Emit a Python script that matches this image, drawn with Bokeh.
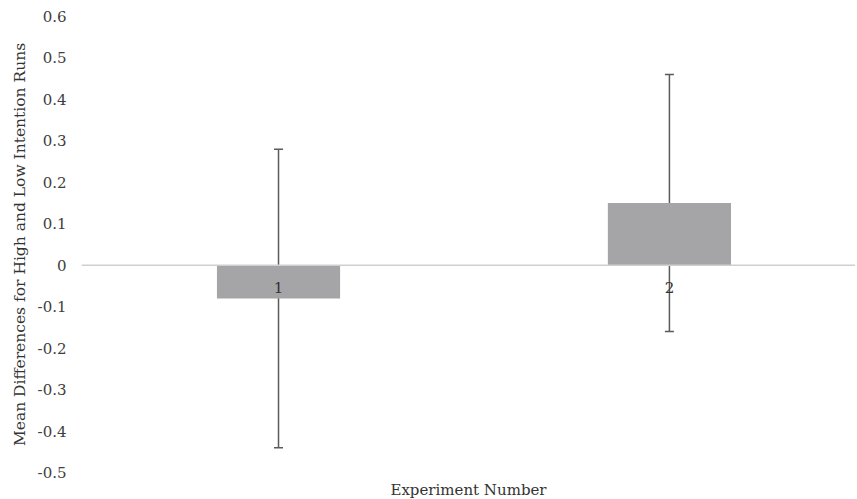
from bokeh.plotting import figure
from bokeh.models import ColumnDataSource, Range1d, Span, Whisker, TeeHead, FixedTicker
from bokeh.core.properties import value
from bokeh.embed import file_html
from bokeh.resources import INLINE

experiments = [1, 2]
experiment_labels = ["1", "2"]
mean_diff = [-0.08, 0.15]
err_upper = [0.28, 0.46]
err_lower = [-0.44, -0.16]
y_ticks = [-0.5, -0.4, -0.3, -0.2, -0.1, 0, 0.1, 0.2, 0.3, 0.4, 0.5, 0.6]
y_tick_labels = ["-0.5", "-0.4", "-0.3", "-0.2", "-0.1", "0", "0.1", "0.2", "0.3", "0.4", "0.5", "0.6"]

FONT = "DejaVu Serif"

src = ColumnDataSource(dict(x=experiments, top=mean_diff, upper=err_upper,
                            lower=err_lower, label=experiment_labels,
                            zero=[0] * len(experiments)))

p = figure(frame_width=774, frame_height=456, output_backend="svg", toolbar_location=None,
           x_range=Range1d(0.496, 2.476), y_range=Range1d(-0.5, 0.6),
           min_border_top=16, min_border_bottom=20, min_border_left=81, min_border_right=0)
p.outline_line_color = None
p.grid.visible = False
p.background_fill_color = "white"
p.border_fill_color = "white"

p.vbar(x="x", top="top", bottom=0, width=0.315, source=src,
       fill_color="#a5a5a7", line_color=None)

p.add_layout(Span(location=0, dimension="width", line_color="#cfcfcf", line_width=1.5))

w = Whisker(base="x", upper="upper", lower="lower", source=src,
            line_color="#5a5a5a", line_width=1.5,
            upper_head=TeeHead(size=9, line_color="#5a5a5a", line_width=1.5),
            lower_head=TeeHead(size=9, line_color="#5a5a5a", line_width=1.5))
p.add_layout(w)

p.text(x="x", y="zero", text="label", source=src, text_font=value(FONT),
       text_font_size="15px", text_color="#333333", text_align="center",
       text_baseline="middle", y_offset=22)

# y axis
p.yaxis.ticker = FixedTicker(ticks=y_ticks)
p.yaxis.major_label_overrides = {t: l for t, l in zip(y_ticks, y_tick_labels)}
p.yaxis.axis_line_color = None
p.yaxis.major_tick_line_color = None
p.yaxis.minor_tick_line_color = None
p.yaxis.major_tick_out = 0
p.yaxis.major_label_standoff = 15
p.yaxis.major_label_text_font = FONT
p.yaxis.major_label_text_font_size = "15px"
p.yaxis.major_label_text_color = "#404040"
p.yaxis.axis_label = "Mean Differences for High and Low Intention Runs"
p.yaxis.axis_label_text_font = FONT
p.yaxis.axis_label_text_font_size = "15.5px"
p.yaxis.axis_label_text_font_style = "normal"
p.yaxis.axis_label_text_color = "#333333"
p.yaxis.axis_label_standoff = 6

# x axis (label only)
p.xaxis.ticker = FixedTicker(ticks=[])
p.xaxis.major_label_standoff = 0
p.xaxis.major_tick_out = 0
p.xaxis.axis_line_color = None
p.xaxis.major_tick_line_color = None
p.xaxis.minor_tick_line_color = None
p.xaxis.axis_label = "Experiment Number"
p.xaxis.axis_label_text_font = FONT
p.xaxis.axis_label_text_font_size = "15px"
p.xaxis.axis_label_text_font_style = "normal"
p.xaxis.axis_label_text_color = "#333333"
p.xaxis.axis_label_standoff = 8

open("out.html", "w").write(file_html(p, INLINE))
